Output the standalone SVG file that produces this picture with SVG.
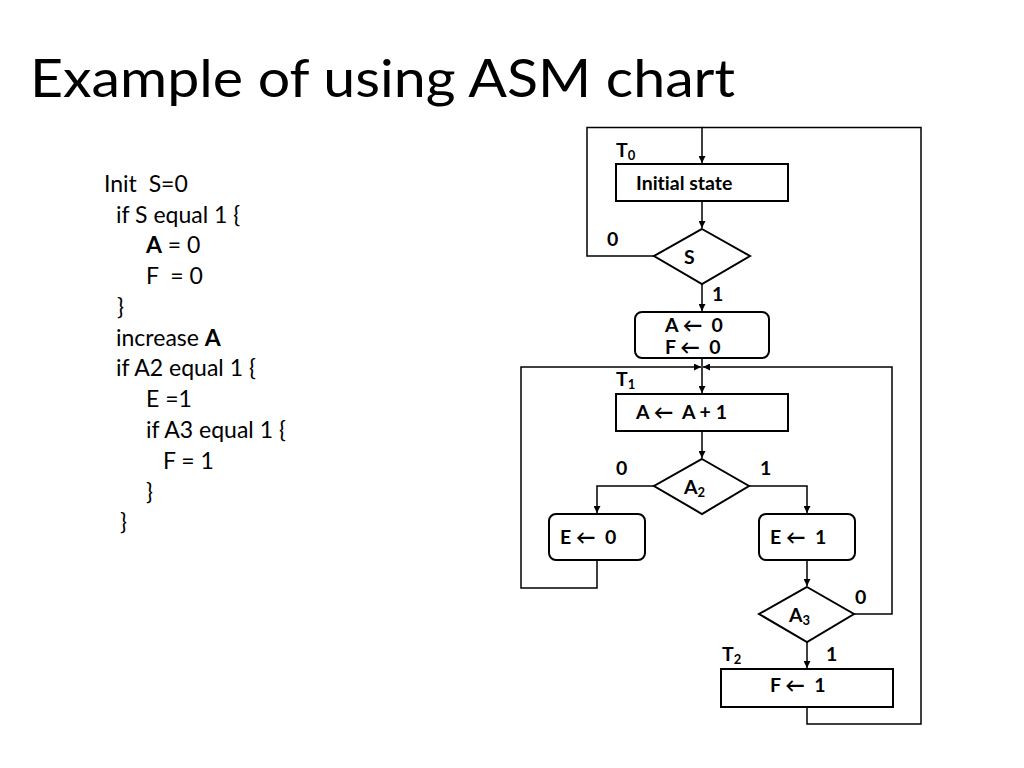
<svg xmlns="http://www.w3.org/2000/svg" width="1024" height="768" viewBox="0 0 1024 768">
<style>
text{white-space:pre;font-variant-ligatures:none}
.title{font-family:Lato,"Open Sans","Liberation Sans",sans-serif;font-size:53px;fill:#000}
.code{font-family:Lato,"Open Sans","Liberation Sans",sans-serif;font-size:23px;fill:#000}
.lb{font-family:Lato,"DejaVu Sans","Liberation Sans",sans-serif;font-size:19.5px;font-weight:bold;fill:#000}
.sub{font-size:13px}
.box{fill:#fff;stroke:#000;stroke-width:2}
.ln{fill:none;stroke:#000;stroke-width:1.5}
</style>
<defs>
<marker id="ah" viewBox="0 0 10 10" refX="10" refY="5" markerWidth="7" markerHeight="7" markerUnits="userSpaceOnUse" orient="auto">
<path d="M0,0 L10,5 L0,10 z" fill="#000"/>
</marker>
</defs>
<rect width="1024" height="768" fill="#fff"/>
<text class="title" x="30" y="97" textLength="705" lengthAdjust="spacingAndGlyphs">Example of using ASM chart</text>
<g id="code" class="code">
<text x="104" y="192">Init  S=0</text>
<text x="116" y="223">if S equal 1 {</text>
<text x="146" y="253"><tspan font-weight="bold">A</tspan> = 0</text>
<text x="146" y="284">F  = 0</text>
<text x="117" y="315">}</text>
<text x="116" y="346">increase <tspan font-weight="bold">A</tspan></text>
<text x="116" y="376">if A2 equal 1 {</text>
<text x="146" y="407">E =1</text>
<text x="146" y="438">if A3 equal 1 {</text>
<text x="163" y="469">F = 1</text>
<text x="146" y="500">}</text>
<text x="120" y="530">}</text>
</g>
<g id="connectors">
<polyline class="ln" points="654,256 587,256 587,127.5 702,127.5 702,163" marker-end="url(#ah)"/>
<polyline class="ln" points="807,707 807,724 921,724 921,127.5 702,127.5"/>
<line class="ln" x1="702" y1="201" x2="702" y2="228" marker-end="url(#ah)"/>
<line class="ln" x1="702" y1="284" x2="702" y2="311" marker-end="url(#ah)"/>
<line class="ln" x1="702" y1="358" x2="702" y2="393" marker-end="url(#ah)"/>
<polyline class="ln" points="597,560 597,588 521,588 521,367 701,367" marker-end="url(#ah)"/>
<polyline class="ln" points="854,614 892,614 892,367 703,367" marker-end="url(#ah)"/>
<line class="ln" x1="702" y1="431" x2="702" y2="458" marker-end="url(#ah)"/>
<polyline class="ln" points="654,486 597,486 597,513" marker-end="url(#ah)"/>
<polyline class="ln" points="749,486 807,486 807,513" marker-end="url(#ah)"/>
<line class="ln" x1="807" y1="560" x2="807" y2="586" marker-end="url(#ah)"/>
<line class="ln" x1="807" y1="642" x2="807" y2="668" marker-end="url(#ah)"/>
</g>
<g id="n-init">
<rect class="box" x="616" y="164" width="172" height="37"/>
<text class="lb" x="636" y="190">Initial state</text>
<text class="lb" x="616" y="157">T<tspan class="sub" dy="3">0</tspan></text>
</g>
<g id="n-s">
<polygon class="box" points="702,229 750,256 702,284 654,256"/>
<text class="lb" x="684" y="264">S</text>
<text class="lb" x="607" y="246">0</text>
<text class="lb" x="712" y="301">1</text>
</g>
<g id="n-reset">
<rect class="box" x="635" y="312" width="134" height="46" rx="7"/>
<text class="lb" x="665" y="332">A ←  0</text>
<text class="lb" x="665" y="354">F ←  0</text>
</g>
<g id="n-inc">
<rect class="box" x="616" y="394" width="172" height="37"/>
<text class="lb" x="636" y="419">A ←  A + 1</text>
<text class="lb" x="616" y="386">T<tspan class="sub" dy="3">1</tspan></text>
</g>
<g id="n-a2">
<polygon class="box" points="702,459 749,486 702,514 654,486"/>
<text class="lb" x="684" y="494">A<tspan class="sub" dy="3">2</tspan></text>
<text class="lb" x="616" y="475">0</text>
<text class="lb" x="760" y="475">1</text>
</g>
<g id="n-e0">
<rect class="box" x="549" y="514" width="96" height="46" rx="7"/>
<text class="lb" x="560" y="544">E ←  0</text>
</g>
<g id="n-e1">
<rect class="box" x="759" y="514" width="96" height="46" rx="7"/>
<text class="lb" x="770" y="544">E ←  1</text>
</g>
<g id="n-a3">
<polygon class="box" points="807,587 854,614 807,642 759,614"/>
<text class="lb" x="789" y="622">A<tspan class="sub" dy="3">3</tspan></text>
<text class="lb" x="855" y="604">0</text>
<text class="lb" x="826" y="661">1</text>
</g>
<g id="n-f1">
<rect class="box" x="721" y="669" width="172" height="38"/>
<text class="lb" x="770" y="692">F ←  1</text>
<text class="lb" x="722" y="661">T<tspan class="sub" dy="3">2</tspan></text>
</g>
</svg>
